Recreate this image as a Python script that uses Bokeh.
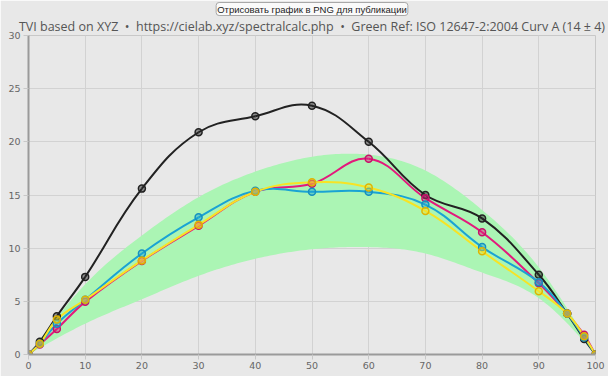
import math
import numpy as np
from bokeh.plotting import figure
from bokeh.models import Range1d, Title, FixedTicker
from bokeh.embed import file_html
from bokeh.resources import INLINE

# ---- data ----
x_pts = [0, 2, 5, 10, 20, 30, 40, 50, 60, 70, 80, 90, 95, 98, 100]
black = [0, 1.2, 3.6, 7.3, 15.6, 20.9, 22.4, 23.4, 20.0, 15.0, 12.8, 7.5, 3.85, 1.45, 0]
magenta = [0, 0.95, 2.4, 4.95, 8.8, 12.1, 15.3, 16.05, 18.4, 14.7, 11.5, 6.7, 3.85, 1.85, 0]
cyan = [0, 1.0, 2.9, 5.15, 9.5, 12.9, 15.4, 15.3, 15.3, 14.1, 10.1, 6.8, 3.85, 1.6, 0]
yellow = [0, 1.0, 3.3, 5.15, 8.85, 12.2, 15.3, 16.2, 15.7, 13.5, 9.7, 5.95, 3.85, 1.72, 0]

band_x = [0, 10, 20, 30, 40, 50, 60, 70, 80, 90, 100]
band_upper = [0, 6.6, 11.2, 14.8, 17.2, 18.6, 18.8, 17.3, 13.6, 8.2, 0]
band_lower = [0, 2.9, 5.2, 7.4, 9.0, 9.9, 10.1, 9.5, 7.7, 5.3, 0]

x_ticks = [0, 10, 20, 30, 40, 50, 60, 70, 80, 90, 100]
y_ticks = [0, 5, 10, 15, 20, 25, 30]

SEP = "\u00a0\u00a0\u2022\u00a0\u00a0"
title_text = "TVI based on XYZ" + SEP + "https://cielab.xyz/spectralcalc.php" + SEP + \
    "Green Ref: ISO 12647-2:2004 Curv A (14 \u00b1 4)"
button_text = "Отрисовать график в PNG для публикации"

# ---- layout ----
W, H = 608, 376
ML, MR, MT, MB = 28, 13, 35, 22
XMIN, XMAX, YMIN, YMAX = 0, 100, 0, 30
FW, FH = W - ML - MR, H - MT - MB
SX = FW / (XMAX - XMIN)
SY = FH / (YMAX - YMIN)


def spline_segments(xs, ys, t=0.4):
    """Chart.js-style bezier control points (computed in pixel space)."""
    X = [v * SX for v in xs]
    Y = [v * SY for v in ys]
    n = len(X)
    cpp, cpn = [], []
    clampx = lambda v: min(max(v, XMIN * SX), XMAX * SX)
    clampy = lambda v: min(max(v, YMIN * SY), YMAX * SY)
    for i in range(n):
        pi = i - 1 if i > 0 else i
        ni = i + 1 if i < n - 1 else i
        d01 = math.hypot(X[i] - X[pi], Y[i] - Y[pi])
        d12 = math.hypot(X[ni] - X[i], Y[ni] - Y[i])
        s = d01 + d12
        s01 = d01 / s if s else 0
        s12 = d12 / s if s else 0
        fa, fb = t * s01, t * s12
        px = X[i] - fa * (X[ni] - X[pi]); py = Y[i] - fa * (Y[ni] - Y[pi])
        nx = X[i] + fb * (X[ni] - X[pi]); ny = Y[i] + fb * (Y[ni] - Y[pi])
        cpp.append((clampx(px) / SX, clampy(py) / SY))
        cpn.append((clampx(nx) / SX, clampy(ny) / SY))
    seg = dict(x0=[], y0=[], x1=[], y1=[], cx0=[], cy0=[], cx1=[], cy1=[])
    for i in range(n - 1):
        seg["x0"].append(xs[i]); seg["y0"].append(ys[i])
        seg["x1"].append(xs[i + 1]); seg["y1"].append(ys[i + 1])
        seg["cx0"].append(cpn[i][0]); seg["cy0"].append(cpn[i][1])
        seg["cx1"].append(cpp[i + 1][0]); seg["cy1"].append(cpp[i + 1][1])
    return seg


def natural_spline_path(xs, ys, k=20):
    """Smooth drawing path (natural cubic spline) through the given points."""
    x = np.asarray(xs, float); y = np.asarray(ys, float)
    n = len(x)
    h = np.diff(x)
    A = np.zeros((n, n)); r = np.zeros(n)
    A[0, 0] = A[-1, -1] = 1
    for i in range(1, n - 1):
        A[i, i - 1] = h[i - 1]; A[i, i] = 2 * (h[i - 1] + h[i]); A[i, i + 1] = h[i]
        r[i] = 6 * ((y[i + 1] - y[i]) / h[i] - (y[i] - y[i - 1]) / h[i - 1])
    M = np.linalg.solve(A, r)
    px, py = [], []
    for i in range(n - 1):
        ts = np.linspace(x[i], x[i + 1], k)
        if i > 0:
            ts = ts[1:]
        for t in ts:
            a, b = x[i + 1] - t, t - x[i]
            v = (M[i] * a ** 3 + M[i + 1] * b ** 3) / (6 * h[i]) \
                + (y[i] / h[i] - M[i] * h[i] / 6) * a + (y[i + 1] / h[i] - M[i + 1] * h[i] / 6) * b
            px.append(float(t)); py.append(float(max(v, 0)))
    return px, py


BG = "#e8e8e8"
p = figure(width=W, height=H, output_backend="svg", toolbar_location=None,
           x_range=Range1d(XMIN, XMAX), y_range=Range1d(YMIN, YMAX),
           min_border_left=ML, min_border_right=MR, min_border_top=0, min_border_bottom=MB)
p.background_fill_color = BG
p.border_fill_color = BG
p.outline_line_color = "#c8c8c8"
p.outline_line_width = 1

# top-most: the "button"
p.title.text = button_text
p.title.align = "center"
p.title.offset = -8
p.title.text_color = "#222222"
p.title.text_font = "Liberation Sans"
p.title.text_font_size = "9.5px"
p.title.text_font_style = "normal"
p.title.text_line_height = 1.0
p.title.background_fill_color = "#fafafa"
p.title.border_line_color = "#a8a8a8"
p.title.border_line_width = 1
p.title.padding = 1
p.title.border_radius = 3
p.title.standoff = 0

# chart title (closer to the frame)
p.add_layout(Title(text=title_text, align="center", text_color="#555555",
                   text_font="Open Sans", text_font_size="12.5px", text_font_style="normal",
                   text_line_height=1.0, offset=1, standoff=1), "above")

for ax in (p.xaxis[0], p.yaxis[0]):
    ax.axis_line_color = "#9a9a9a"
    ax.axis_line_width = 2
    ax.major_tick_line_color = "#c8c8c8"
    ax.major_tick_in = 0
    ax.major_tick_out = 5
    ax.minor_tick_line_color = None
    ax.major_label_text_color = "#666666"
    ax.major_label_text_font = "DejaVu Sans"
    ax.major_label_text_font_size = "9.5px"
p.xaxis[0].ticker = FixedTicker(ticks=x_ticks)
p.yaxis[0].ticker = FixedTicker(ticks=y_ticks)
p.xaxis[0].major_label_standoff = 2
p.yaxis[0].major_label_standoff = 3
p.grid.grid_line_color = "#d2d2d2"
p.grid.grid_line_width = 1

# green reference band
up = natural_spline_path(band_x, band_upper)
lo = natural_spline_path(band_x, band_lower)
p.patch(up[0] + lo[0][::-1], up[1] + lo[1][::-1], fill_color="#abf5b4", line_color=None)

series = [
    (black, "#222222", "#222222"),
    (magenta, "#e3197c", "#c8106a"),
    (cyan, "#1aa3d4", "#1590c0"),
    (yellow, "#f7e324", "#e0b400"),
]
for ys, col, mcol in series:
    seg = spline_segments(x_pts, ys)
    p.bezier(line_color=col, line_width=2, **seg)
for ys, col, mcol in series:
    p.scatter(x_pts, ys, size=7, marker="circle", line_color=mcol, line_width=1.5,
              fill_color=col, fill_alpha=0.45)

open("out.html", "w").write(file_html(p, INLINE))
